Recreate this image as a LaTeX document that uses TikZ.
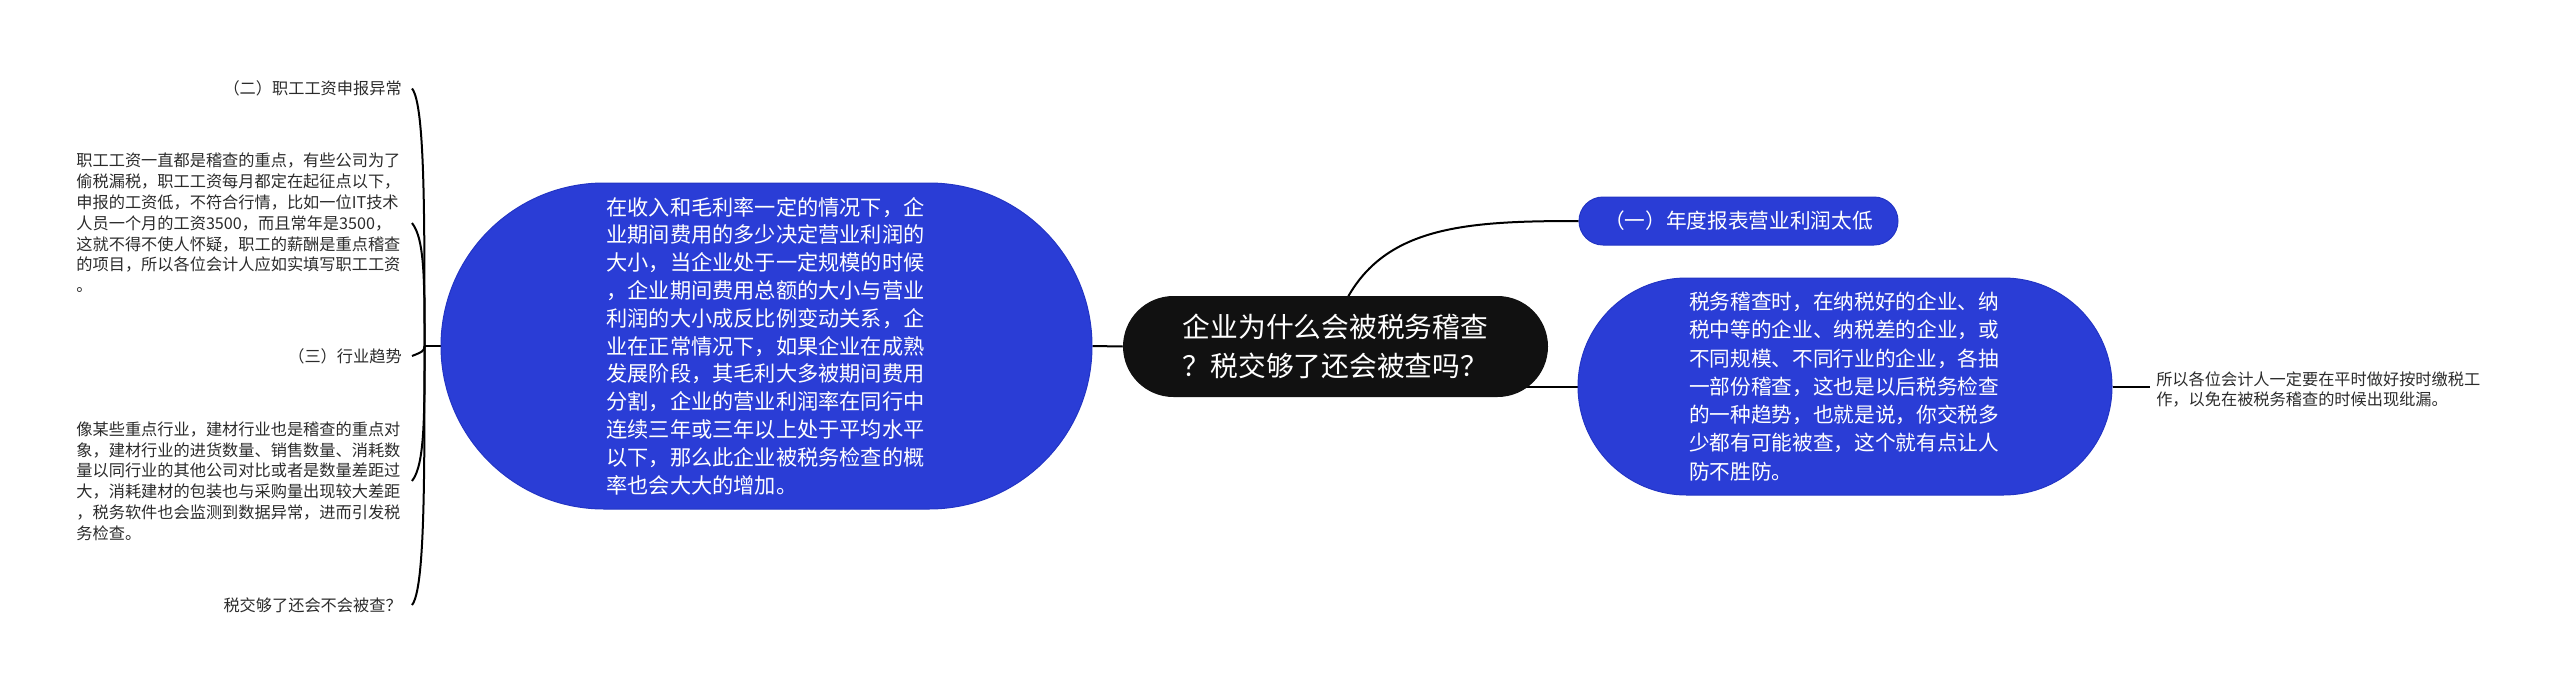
\documentclass[tikz,border=0pt]{standalone}
\usepackage{fontspec}
\setmainfont{Noto Sans CJK SC}
\usetikzlibrary{shapes.misc,backgrounds,calc}
\definecolor{nodeblue}{HTML}{2A3DD6}
\definecolor{nodeblueedge}{HTML}{2335C4}
\definecolor{rootblack}{HTML}{111111}
\definecolor{txtgray}{HTML}{2B2B2B}
\begin{document}
\begin{tikzpicture}[x=0.75pt,y=-0.75pt,
  conn/.style={line width=1.5pt, black},
  bluebox/.style={rounded rectangle, fill=nodeblue, draw=nodeblueedge, line width=0.75pt, text=white, inner sep=0pt, align=left},
  rootbox/.style={rounded rectangle, fill=rootblack, text=white, inner sep=0pt, align=left},
  leftlabel/.style={anchor=east, inner sep=0pt, inner xsep=7.5pt, text=txtgray, align=right, font=\fontsize{12.15pt}{15.6pt}\selectfont},
  leftpara/.style={leftlabel, align=left, text width=244pt},
]
\useasboundingbox (0,0) rectangle (2560,693);

% central node
\node[rootbox, minimum width=318.75pt, minimum height=75.75pt,
      font=\fontsize{20.8pt}{29.25pt}\selectfont] (root) at (1335.5,346.5)
  {企业为什么会被税务稽查\\？税交够了还会被查吗？};

% big left blue node
\node[bluebox, minimum width=488.25pt, minimum height=244.5pt, text width=240pt,
      font=\fontsize{15.9pt}{20.85pt}\selectfont] (big) at (766.5,346)
  {在收入和毛利率一定的情况下，企\\
   业期间费用的多少决定营业利润的\\
   大小，当企业处于一定规模的时候\\
   ，企业期间费用总额的大小与营业\\
   利润的大小成反比例变动关系，企\\
   业在正常情况下，如果企业在成熟\\
   发展阶段，其毛利大多被期间费用\\
   分割，企业的营业利润率在同行中\\
   连续三年或三年以上处于平均水平\\
   以下，那么此企业被税务检查的概\\
   率也会大大的增加。};

% top right small blue node
\node[bluebox, minimum width=239.25pt, minimum height=36pt,
      font=\fontsize{15.5pt}{20pt}\selectfont] (one) at (1738.5,221)
  {（一）年度报表营业利润太低};

% right blue node
\node[bluebox, minimum width=400.5pt, minimum height=162.75pt, text width=234pt,
      font=\fontsize{15.5pt}{21.2pt}\selectfont] (rightb) at (1845,386.5)
  {税务稽查时，在纳税好的企业、纳\\
   税中等的企业、纳税差的企业，或\\
   不同规模、不同行业的企业，各抽\\
   一部份稽查，这也是以后税务检查\\
   的一种趋势，也就是说，你交税多\\
   少都有可能被查，这个就有点让人\\
   防不胜防。};

% far right text
\node[anchor=west, inner sep=0pt, inner xsep=4.5pt, text=txtgray, align=left,
      font=\fontsize{12.15pt}{15.6pt}\selectfont] (rtext) at (2150,389.5)
  {所以各位会计人一定要在平时做好按时缴税工\\作，以免在被税务稽查的时候出现纰漏。};

% left side nodes
\node[leftlabel] (l2) at (412,88.5) {（二）职工工资申报异常};
\node[leftpara] (p1) at (412,223)
  {职工工资一直都是稽查的重点，有些公司为了\\
   偷税漏税，职工工资每月都定在起征点以下，\\
   申报的工资低，不符合行情，比如一位IT技术\\
   人员一个月的工资3500，而且常年是3500，\\
   这就不得不使人怀疑，职工的薪酬是重点稽查\\
   的项目，所以各位会计人应如实填写职工工资\\
   。};
\node[leftlabel] (l3) at (412,356) {（三）行业趋势};
\node[leftpara] (p2) at (412,481)
  {像某些重点行业，建材行业也是稽查的重点对\\
   象，建材行业的进货数量、销售数量、消耗数\\
   量以同行业的其他公司对比或者是数量差距过\\
   大，消耗建材的包装也与采购量出现较大差距\\
   ，税务软件也会监测到数据异常，进而引发税\\
   务检查。};
\node[leftlabel] (l4) at (412,605) {税交够了还会不会被查？};

\begin{scope}[on background layer]
  \coordinate (J) at ($(big.west)+(-16,0)$);
  \draw[conn] (big.west) -- (J);
  \foreach \n in {l2,p1}
    \draw[conn] (J) .. controls ($(J)!0.5!(J|-\n.east)$) and +(13,16) .. (\n.east);
  \foreach \n in {p2,l4}
    \draw[conn] (J) .. controls ($(J)!0.5!(J|-\n.east)$) and +(13,-16) .. (\n.east);
  \draw[conn] (J) .. controls +(0,5) and +(10,-4) .. (l3.east);

  \draw[conn] (root.west) -- (big.east);
  \draw[conn] (rightb.west) -- (rightb.west -| root.center);
  \draw[conn] ($(root.north)+(12,2)$) .. controls +(40,-72) and +(-110,0) .. (one.west);
  \draw[conn] (rightb.east) -- (rightb.east -| rtext.west);
\end{scope}
\end{tikzpicture}
\end{document}
